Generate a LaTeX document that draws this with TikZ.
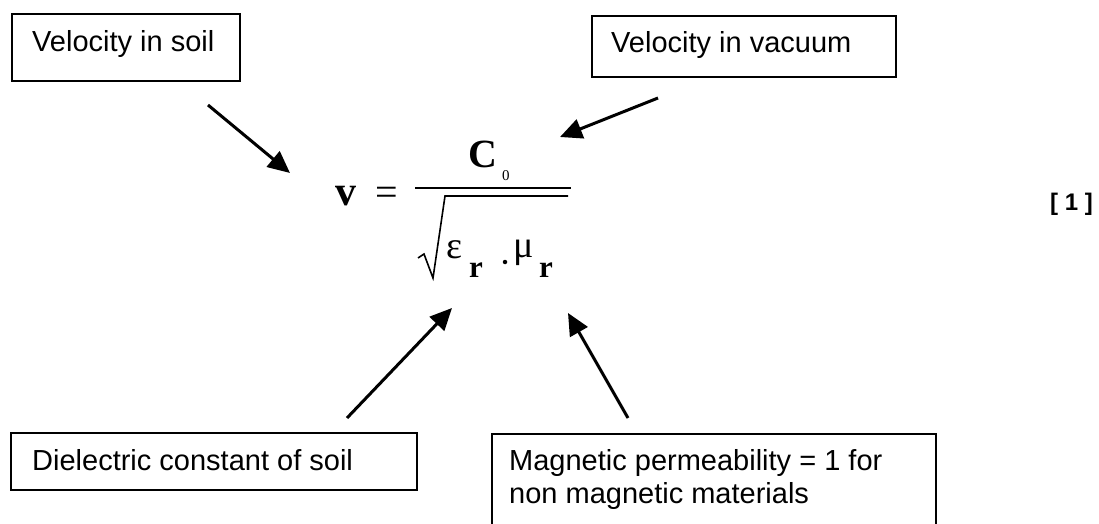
\documentclass[tikz,border=0pt]{standalone}
\usepackage{fontspec}
\setmainfont{Liberation Sans}
\newfontfamily\eqfont{Liberation Serif}
\usetikzlibrary{arrows.meta}
\begin{document}
\begin{tikzpicture}[x=1pt,y=-1pt,
  lbl/.style={anchor=base west,inner sep=0pt,font=\fontsize{29}{32}\selectfont},
  box/.style={draw,line width=2pt,anchor=north west,inner sep=0pt},
  ptr/.style={line width=3pt,-{Triangle[length=22pt,width=20pt]}},
  eq/.style={anchor=base west,inner sep=0pt}]
\useasboundingbox (0,0) rectangle (1099,524);
\clip (0,0) rectangle (1099,524);
\fill[white] (0,0) rectangle (1099,524);

% boxes
\node[box,minimum width=228pt,minimum height=67pt] (soilbox) at (11,13) {};
\node[lbl] (soiltxt) at (32,52) {Velocity in soil};
\node[box,minimum width=304pt,minimum height=61pt] (vacbox) at (591,15) {};
\node[lbl] (vactxt) at (611,53) {Velocity in vacuum};
\node[box,minimum width=406pt,minimum height=57pt] (dielbox) at (10,432) {};
\node[lbl] (dieltxt) at (32,470) {Dielectric constant of soil};
\node[box,minimum width=444pt,minimum height=120pt] (magbox) at (491,433) {};
\node[lbl] (magtxta) at (509,470) {Magnetic permeability = 1 for};
\node[lbl] (magtxtb) at (509,503) {non magnetic materials};

% equation
\node[eq,font=\eqfont\bfseries\fontsize{42}{42}\selectfont] (eqv) at (335,205) {v};
\node[eq,font=\eqfont\fontsize{40}{40}\selectfont] (eqeq) at (375,205) {=};
\node[eq,font=\eqfont\bfseries\fontsize{40}{40}\selectfont] (eqc) at (468,167) {C};
\node[eq,font=\eqfont\fontsize{15}{15}\selectfont] (eqzero) at (502,180) {0};
\coordinate (fracl) at (415,188);
\coordinate (fracr) at (571,188);
\draw[line width=2pt] (fracl) -- (fracr);
\coordinate (radtick) at (418,258);
\coordinate (radknee) at (424,254);
\coordinate (radbot) at (433,278);
\coordinate (radtop) at (445,196);
\coordinate (radend) at (568,196);
\draw[line width=1.6pt,line join=miter] (radtick) -- (radknee) -- (radbot) -- (radtop) -- (radend);
\node[eq,font=\eqfont\fontsize{38}{38}\selectfont] (eqeps) at (446,258) {ε};
\node[eq,font=\eqfont\bfseries\fontsize{31}{31}\selectfont] (eqra) at (469,277) {r};
\node[circle,fill,inner sep=0pt,minimum size=4.5pt] (eqdot) at (505,262) {};
\node[eq,font=\eqfont\fontsize{38}{38}\selectfont] (eqmu) at (513,257) {μ};
\node[eq,font=\eqfont\bfseries\fontsize{31}{31}\selectfont] (eqrb) at (539,277) {r};
\node[eq,font=\bfseries\fontsize{24}{24}\selectfont] (eqnum) at (1050,210) {[ 1 ]};

% arrows
\coordinate (a1s) at (208,105); \coordinate (a1e) at (290,173);
\coordinate (a2s) at (658,98);  \coordinate (a2e) at (560,137);
\coordinate (a3s) at (347,418); \coordinate (a3e) at (452,308);
\coordinate (a4s) at (628,418); \coordinate (a4e) at (568,313);
\draw[ptr] (a1s) -- (a1e);
\draw[ptr] (a2s) -- (a2e);
\draw[ptr] (a3s) -- (a3e);
\draw[ptr] (a4s) -- (a4e);
\end{tikzpicture}
\end{document}
